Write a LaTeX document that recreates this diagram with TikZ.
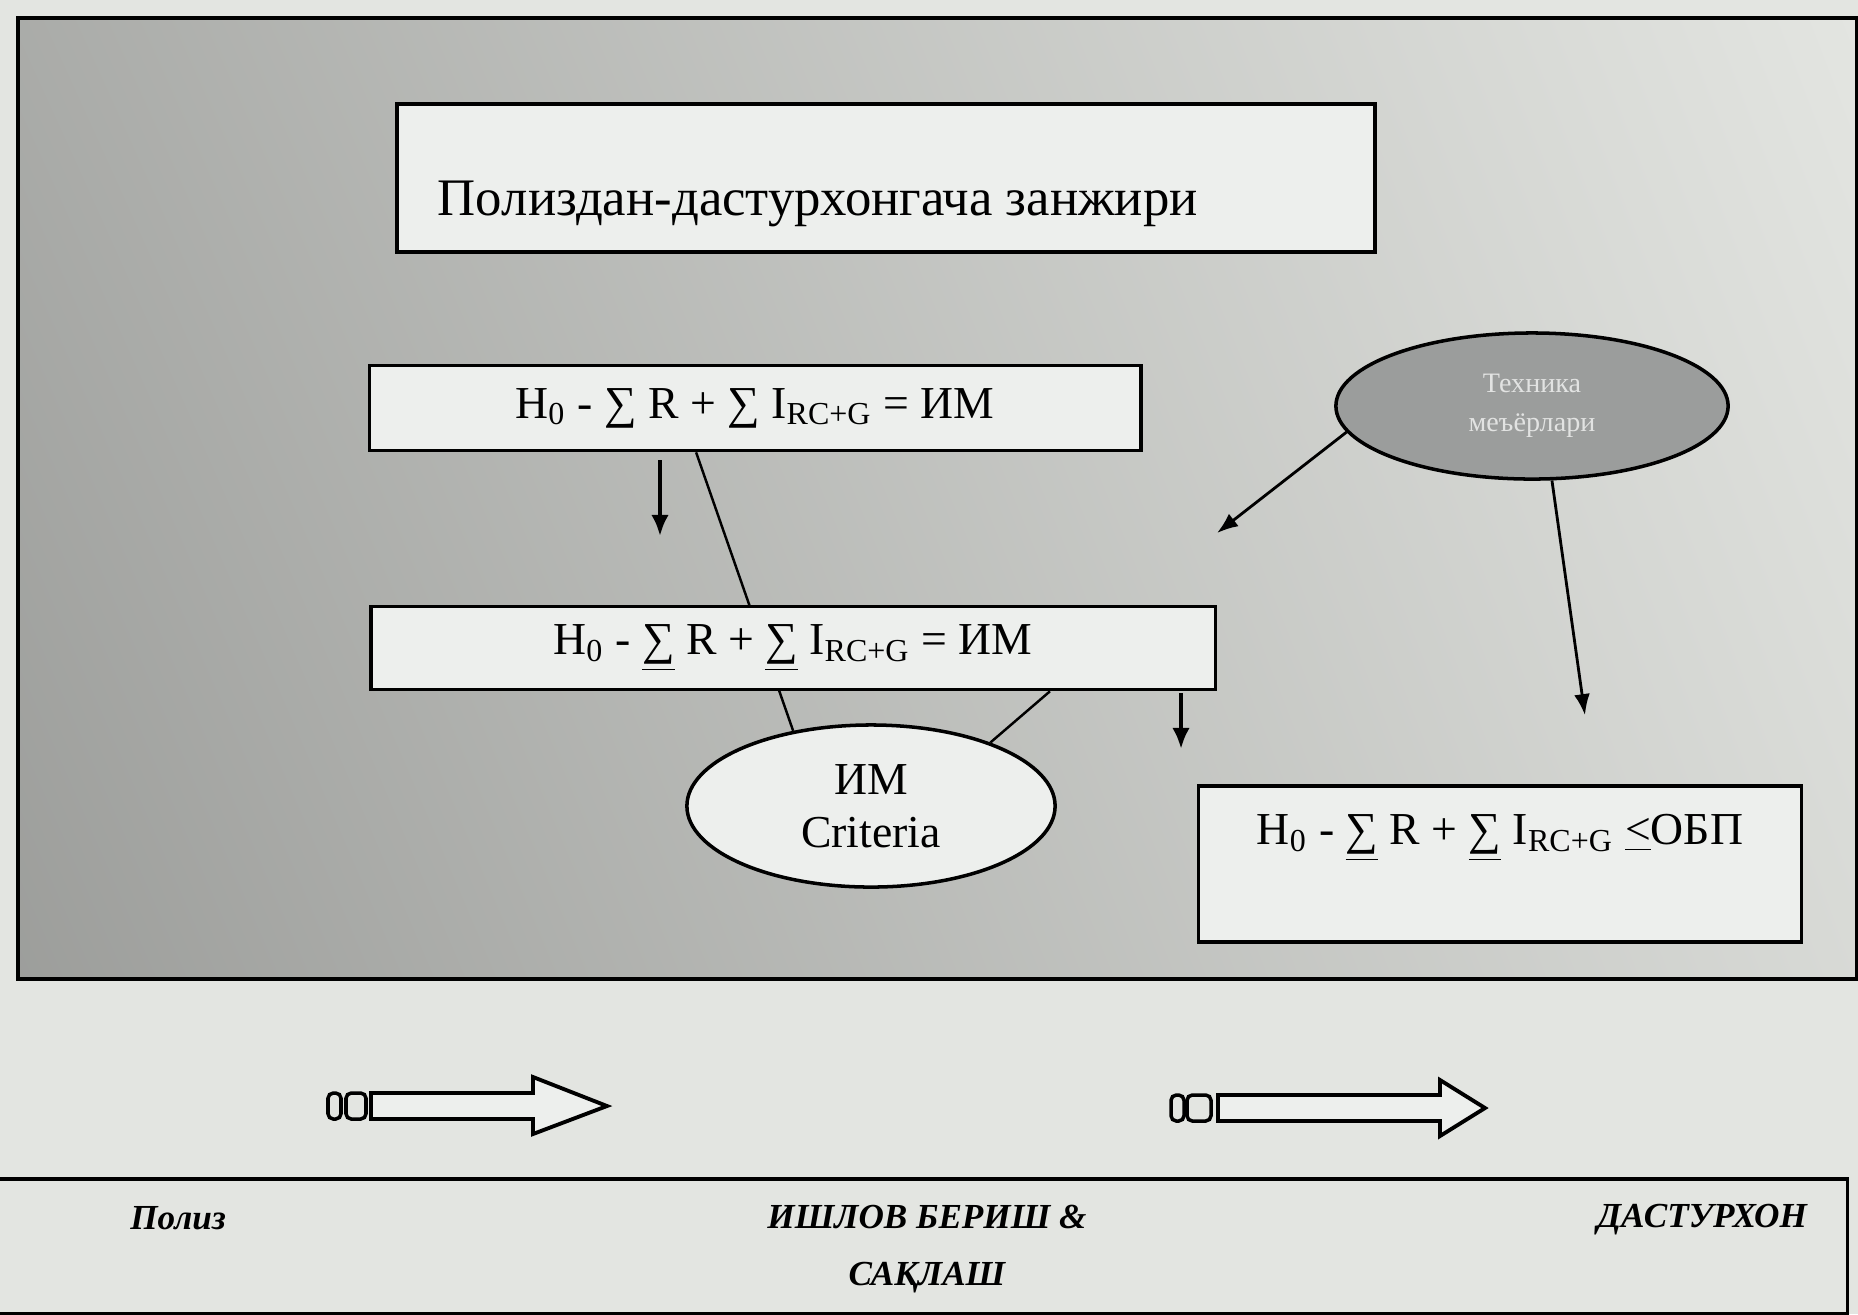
\documentclass[tikz,border=0pt]{standalone}
\usepackage{fontspec}
\setmainfont{Liberation Serif}
\usetikzlibrary{shapes.geometric,shadings,arrows.meta,calc}

\definecolor{paper}{HTML}{E3E5E1}
\definecolor{boxfill}{HTML}{EDEFED}
\definecolor{techfill}{HTML}{9B9D9C}
\definecolor{techtext}{HTML}{E2E3E2}

\tikzset{
  box/.style={draw, line width=1pt, fill=boxfill, inner sep=0pt},
  eqtext/.style={font=\fontsize{13}{15}\selectfont},
  link/.style={line width=0.7pt},
  pointer/.style={line width=0.8pt, -{Latex[length=6pt,width=4.5pt]}},
  downarrow/.style={line width=1.4pt, -{Latex[length=6pt,width=5pt]}},
  blockarrow/.style={line width=1.1pt, fill=boxfill, line join=miter},
  footnote/.style={font=\fontsize{10}{16}\selectfont\bfseries\itshape}
}

\begin{document}
\begin{tikzpicture}[x=0.01cm,y=-0.01cm]
\useasboundingbox (0,0) rectangle (1858,1314);
\fill[paper] (0,0) rectangle (1858,1314);

% shaded panel
\shade[upper left=black!25!paper, lower left=black!31!paper,
       upper right=paper, lower right=black!5!paper] (18,18) rectangle (1857,979);
\draw[line width=1pt] (18,18) rectangle (1857,979);

% title
\node[box, minimum width=9.77cm, minimum height=1.48cm] (title) at (886,178) {};
\node[anchor=west, font=\fontsize{15}{18}\selectfont] (titletext)
  at ([xshift=0.3cm,yshift=-0.26cm]title.west) {Полиздан-дастурхонгача занжири};

% first equation and the criteria ellipse
\node[box, minimum width=7.71cm, minimum height=0.85cm, eqtext] (eqone) at (755,408)
  {H\textsubscript{0} - ∑ R + ∑ I\textsubscript{RC+G} = ИМ};
\node[ellipse, draw, line width=1pt, fill=boxfill, inner sep=0pt,
      minimum width=3.68cm, minimum height=1.62cm, align=center,
      font=\fontsize{13}{15}\selectfont] (imcrit) at (871,806) {ИМ\\Criteria};
\draw[link] ($(eqone.south west)!0.424!(eqone.south east)$) -- (imcrit.136);

% second equation
\node[box, minimum width=8.44cm, minimum height=0.83cm, eqtext] (eqtwo) at (793,648)
  {H\textsubscript{0} - \underline{∑} R + \underline{∑} I\textsubscript{RC+G} = ИМ};
\draw[link] ($(eqtwo.south west)!0.803!(eqtwo.south east)$) -- (imcrit.28);

\coordinate (downa) at (660,460);
\coordinate (downb) at (660,536);
\draw[downarrow] (downa) -- (downb);
\coordinate (downc) at (1181,693);
\coordinate (downd) at (1181,749);
\draw[downarrow] (downc) -- (downd);

% technique ellipse
\node[ellipse, draw, line width=1pt, fill=techfill, inner sep=0pt,
      minimum width=3.92cm, minimum height=1.46cm, align=center,
      text=techtext, font=\fontsize{8}{11}\selectfont] (tech) at (1532,406) {Техника\\меъёрлари};
\coordinate (techend) at (1217,533);
\draw[pointer] (tech.188) -- (techend);

% limit box
\node[box, minimum width=6.03cm, minimum height=1.56cm] (eqlimit) at (1500,864) {};
\node[eqtext] (limittext) at ([yshift=0.26cm]eqlimit.center)
  {H\textsubscript{0} - \underline{∑} R + \underline{∑} I\textsubscript{RC+G} \underline{<}ОБП};
\draw[pointer] (tech.285) -- ($(eqlimit.north west)!0.64!(eqlimit.north east)+(0,-69)$);

% block arrows
\draw[line width=1pt, rounded corners=1.5pt] (328,1093) rectangle (341,1119);
\draw[line width=1pt, rounded corners=1.5pt] (346,1093) rectangle (366,1119);
\draw[blockarrow] (371,1093) -- (533,1093) -- (533,1077) -- (607,1106) -- (533,1134) -- (533,1119) -- (371,1119) -- cycle;

\draw[line width=1pt, rounded corners=1.5pt] (1171,1095) rectangle (1184,1121);
\draw[line width=1pt, rounded corners=1.5pt] (1187,1095) rectangle (1211,1121);
\draw[blockarrow] (1218,1095) -- (1440,1095) -- (1440,1080) -- (1485,1108) -- (1440,1136) -- (1440,1121) -- (1218,1121) -- cycle;

% stages
\node[draw, line width=1pt, fill=paper, minimum width=18.6cm, minimum height=1.35cm,
      anchor=north east] (stages) at (1849,1177) {};
\node[footnote] (field) at (178,1218) {Полиз};
\node[footnote, align=center] (process) at (927,1249) {ИШЛОВ БЕРИШ \&\\САҚЛАШ};
\node[footnote] (table) at (1702,1220) {ДАСТУРХОН};
\end{tikzpicture}
\end{document}
